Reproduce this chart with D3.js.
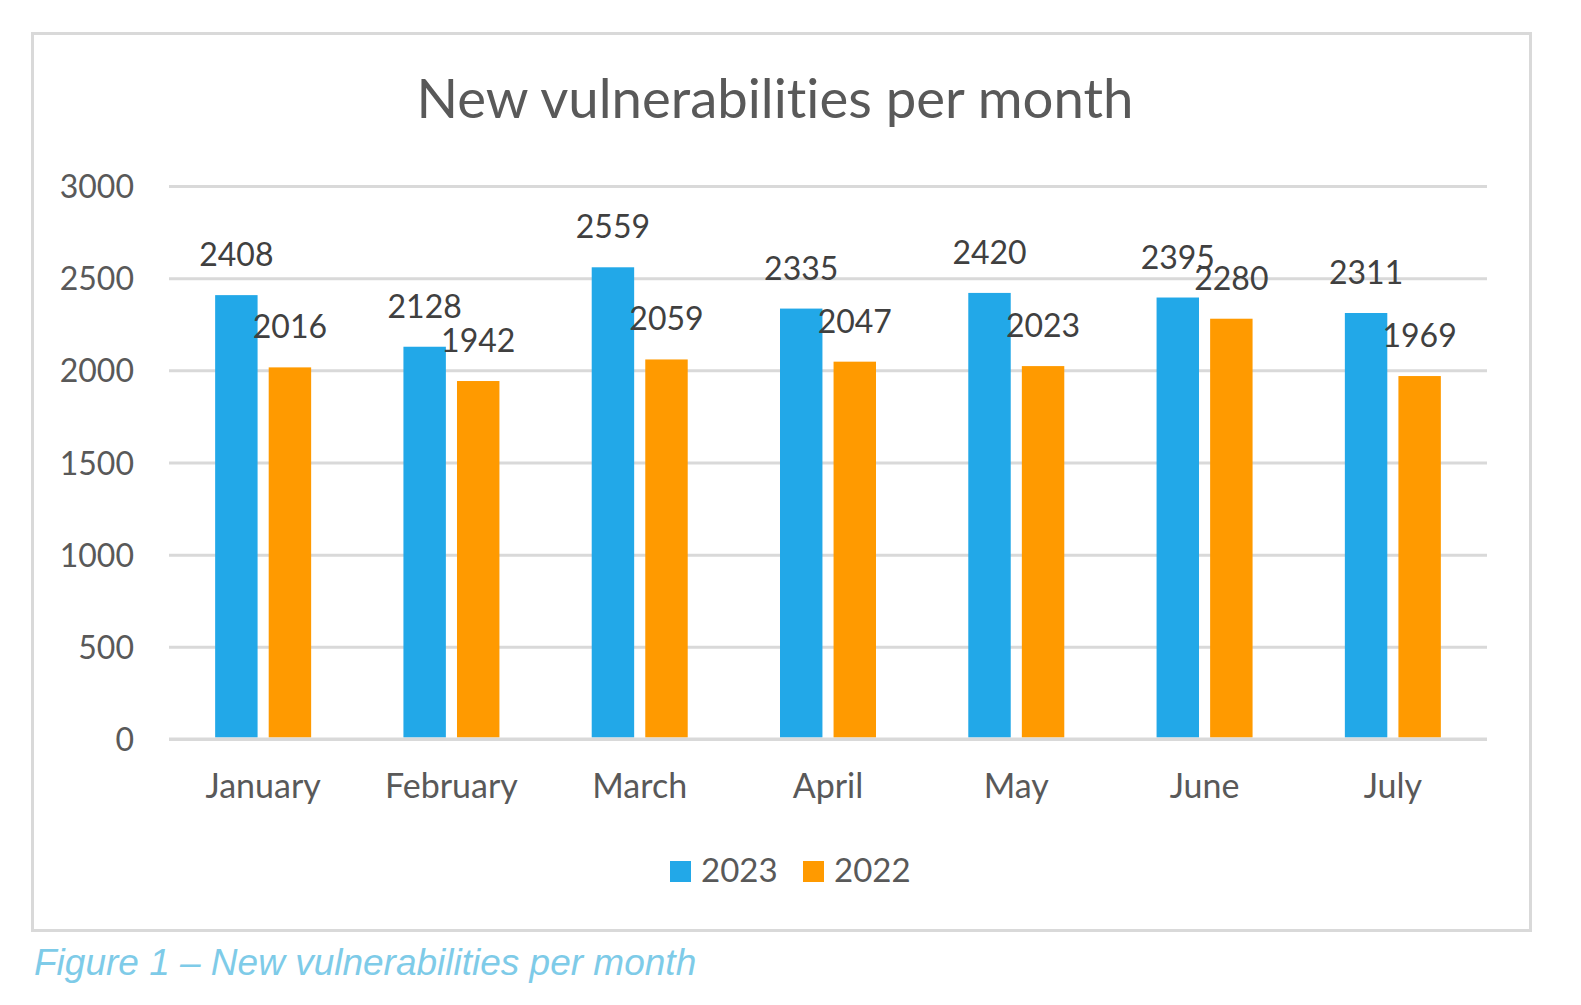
<!DOCTYPE html>
<html>
<head>
<meta charset="utf-8">
<script src="https://cdn.jsdelivr.net/npm/d3@7"></script>
<style>
  html, body { margin: 0; padding: 0; background: #ffffff; }
  svg { display: block; }
  text { font-variant-ligatures: none; font-feature-settings: "liga" 0; }
</style>
</head>
<body>
<svg id="chart" width="1581" height="1005"></svg>
<script>
const months = ["January", "February", "March", "April", "May", "June", "July"];
const seriesNames = ["2023", "2022"];
const values2023 = [2408, 2128, 2559, 2335, 2420, 2395, 2311];
const values2022 = [2016, 1942, 2059, 2047, 2023, 2280, 1969];
const yTicks = [0, 500, 1000, 1500, 2000, 2500, 3000];
const colors = ["#22A8E8", "#FF9A00"];
const titleText = "New vulnerabilities per month";
const captionText = "Figure 1 \u2013 New vulnerabilities per month";

const seriesValues = [values2023, values2022];
const svg = d3.select("#chart");
const FONT = "Lato, 'Open Sans', sans-serif";

// frame
svg.append("rect")
  .attr("x", 32.5).attr("y", 33.5).attr("width", 1498).attr("height", 897)
  .attr("fill", "#ffffff").attr("stroke", "#d9d9d9").attr("stroke-width", 3);

// title
svg.append("text")
  .attr("x", 775).attr("y", 118)
  .attr("text-anchor", "middle")
  .attr("font-family", FONT).attr("font-size", 54.5)
  .attr("fill", "#595959")
  .text(titleText);

const plot = { left: 169, right: 1487, top: 186, bottom: 739 };

const x = d3.scaleBand().domain(months).range([plot.left, plot.right]).paddingInner(0).paddingOuter(0);
const y = d3.scaleLinear().domain([0, 3000]).range([plot.bottom, plot.top]);

// sub-band: bar width 42, gap 11 between series
const groupWidth = 96;
const xs = d3.scaleBand().domain(seriesNames)
  .range([(x.bandwidth() - groupWidth) / 2, (x.bandwidth() + groupWidth) / 2])
  .paddingInner(11 / 53);

// gridlines via axis
const yAxis = d3.axisLeft(y).tickValues(yTicks).tickFormat(d3.format("d"))
  .tickSize(-(plot.right - plot.left)).tickPadding(35);
const gAxis = svg.append("g").attr("transform", `translate(${plot.left},0)`).call(yAxis);
gAxis.select(".domain").remove();
gAxis.selectAll(".tick line").attr("stroke", "#d9d9d9").attr("stroke-width", 3);
gAxis.selectAll(".tick text")
  .attr("font-family", FONT).attr("font-size", 32).attr("fill", "#595959")
  .attr("dy", "0.36em");

// bars
seriesNames.forEach((s, si) => {
  const vals = seriesValues[si];
  const g = svg.append("g");
  g.selectAll("rect").data(months).enter().append("rect")
    .attr("x", m => x(m) + xs(s))
    .attr("y", (m, i) => y(vals[i]))
    .attr("width", xs.bandwidth())
    .attr("height", (m, i) => y(0) - y(vals[i]) - 1.5)
    .attr("fill", colors[si]);
});

// baseline
svg.append("line")
  .attr("x1", plot.left).attr("x2", plot.right)
  .attr("y1", y(0)).attr("y2", y(0))
  .attr("stroke", "#d9d9d9").attr("stroke-width", 3);

// value labels
seriesNames.forEach((s, si) => {
  const vals = seriesValues[si];
  svg.append("g").selectAll("text").data(months).enter().append("text")
    .attr("x", m => x(m) + xs(s) + xs.bandwidth() / 2)
    .attr("y", (m, i) => y(vals[i]) - 29)
    .attr("text-anchor", "middle")
    .attr("font-family", FONT).attr("font-size", 32)
    .attr("fill", "#404040")
    .text((m, i) => vals[i]);
});

// category labels
const xAxis = d3.axisBottom(x).tickSize(0).tickPadding(0);
const gx = svg.append("g").attr("transform", `translate(0,${plot.bottom})`).call(xAxis);
gx.select(".domain").remove();
gx.selectAll(".tick text")
  .attr("font-family", FONT).attr("font-size", 34).attr("fill", "#595959")
  .attr("y", 59).attr("dy", 0);

// legend
const legendItems = [
  { name: seriesNames[0], color: colors[0], x: 670 },
  { name: seriesNames[1], color: colors[1], x: 803 }
];
const lg = svg.append("g");
legendItems.forEach(it => {
  lg.append("rect").attr("x", it.x).attr("y", 861).attr("width", 21).attr("height", 21).attr("fill", it.color);
  lg.append("text").attr("x", it.x + 31).attr("y", 882)
    .attr("font-family", FONT).attr("font-size", 33).attr("fill", "#595959")
    .text(it.name);
});

// caption
svg.append("text")
  .attr("x", 34).attr("y", 975)
  .attr("font-family", "'Liberation Sans', Arial, sans-serif")
  .attr("font-style", "italic").attr("font-size", 37)
  .attr("fill", "#7ECBE8")
  .text(captionText);
</script>
</body>
</html>
